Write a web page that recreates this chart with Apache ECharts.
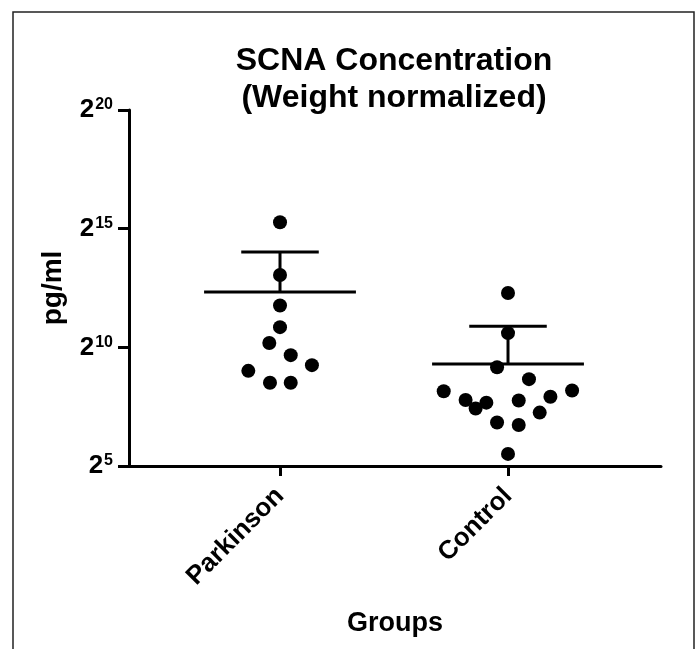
<!DOCTYPE html>
<html>
<head>
<meta charset="utf-8">
<script src="https://cdn.jsdelivr.net/npm/echarts@6/dist/echarts.min.js"></script>
<style>html,body{margin:0;padding:0;background:#fff}#c{width:696px;height:649px}</style>
</head>
<body>
<div id="c"></div>
<script>
// ---- data (values as log2 of pg/ml) ----
const categories = ['Parkinson', 'Control'];
const groupPos = [1, 2];
const yTicks = [5, 10, 15, 20];
const parkinsonLog2 = [15.27, 13.05, 11.76, 10.85, 10.18, 9.67, 9.25, 9.01, 8.51, 8.51];
const parkinsonJitter = [0, 0, 0, 0, -0.047, 0.047, 0.14, -0.139, -0.044, 0.047];
const controlLog2 = [12.29, 10.60, 9.16, 8.66, 8.15, 8.18, 7.78, 7.67, 7.42, 7.76, 7.92, 7.25, 6.83, 6.73, 5.51];
const controlJitter = [0, 0, -0.048, 0.092, -0.282, 0.281, -0.186, -0.095, -0.142, 0.047, 0.186, 0.139, -0.048, 0.047, 0];
const meanLog2 = [12.33, 9.30];
const semUpperLog2 = [14.02, 10.89];

const FONT = '"Liberation Sans", Arial, Helvetica, sans-serif';
const chart = echarts.init(document.getElementById('c'), null, {renderer: 'canvas'});

const pkData = parkinsonLog2.map((v, i) => [groupPos[0] + parkinsonJitter[i], v]);
const ctData = controlLog2.map((v, i) => [groupPos[1] + controlJitter[i], v]);
const statData = groupPos.map((p, i) => [p, meanLog2[i], semUpperLog2[i]]);

const MEAN_HALF = 0.333, CAP_HALF = 0.17;

chart.setOption({
  backgroundColor: '#fff',
  animation: false,
  graphic: [
    {type: 'rect', shape: {x: 13, y: 12, width: 681, height: 660}, style: {fill: 'none', stroke: '#222', lineWidth: 1.5}, silent: true},
    {type: 'text', x: 394, y: 43, style: {text: 'SCNA Concentration\n(Weight normalized)', font: 'bold 32px ' + FONT, fill: '#000', align: 'center', verticalAlign: 'top', lineHeight: 37}, silent: true}
  ],
  grid: {left: 129, right: 35, top: 110, bottom: 183, containLabel: false, outerBoundsMode: 'none'},
  xAxis: {
    type: 'value', min: 0.3377, max: 2.671,
    name: 'Groups', nameLocation: 'middle', nameGap: 144,
    nameTextStyle: {fontFamily: FONT, fontWeight: 'bold', fontSize: 27, color: '#000'},
    axisLine: {show: true, lineStyle: {color: '#000', width: 3}},
    axisTick: {show: true, length: 10, customValues: groupPos, lineStyle: {color: '#000', width: 3}},
    axisLabel: {
      show: true, customValues: groupPos, rotate: 45, margin: 26,
      formatter: v => categories[groupPos.indexOf(Math.round(v))] || '',
      fontFamily: FONT, fontWeight: 'bold', fontSize: 26, color: '#000'
    },
    splitLine: {show: false}
  },
  yAxis: {
    type: 'value', min: 5, max: 20, interval: 5,
    name: 'pg/ml', nameLocation: 'middle', nameGap: 62,
    nameTextStyle: {fontFamily: FONT, fontWeight: 'bold', fontSize: 28, color: '#000'},
    axisLine: {show: true, lineStyle: {color: '#000', width: 3}},
    axisTick: {show: true, length: 11, lineStyle: {color: '#000', width: 3}},
    axisLabel: {
      margin: 16,
      formatter: v => yTicks.indexOf(v) >= 0 ? '{b|2}{s|' + v + '}' : '',
      rich: {
        b: {fontFamily: FONT, fontWeight: 'bold', fontSize: 26, lineHeight: 26, color: '#000'},
        s: {fontFamily: FONT, fontWeight: 'bold', fontSize: 16, lineHeight: 17, color: '#000', verticalAlign: 'top', padding: [0, 0, 0, 1]}
      }
    },
    splitLine: {show: false}
  },
  series: [
    {type: 'scatter', name: categories[0], data: pkData, symbol: 'circle', symbolSize: 14, itemStyle: {color: '#000', opacity: 1}, z: 3},
    {type: 'scatter', name: categories[1], data: ctData, symbol: 'circle', symbolSize: 14, itemStyle: {color: '#000', opacity: 1}, z: 3},
    {
      type: 'custom', data: statData, z: 4,
      renderItem: (params, api) => {
        const x = api.value(0), m = api.value(1), u = api.value(2);
        const a = api.coord([x - MEAN_HALF, m]), b = api.coord([x + MEAN_HALF, m]);
        const c = api.coord([x, m]), d = api.coord([x, u]);
        const e = api.coord([x - CAP_HALF, u]), f = api.coord([x + CAP_HALF, u]);
        const st = {stroke: '#000', lineWidth: 3, fill: 'none'};
        return {type: 'group', children: [
          {type: 'line', shape: {x1: a[0], y1: a[1], x2: b[0], y2: b[1]}, style: st},
          {type: 'line', shape: {x1: c[0], y1: c[1], x2: d[0], y2: d[1]}, style: st},
          {type: 'line', shape: {x1: e[0], y1: e[1], x2: f[0], y2: f[1]}, style: st}
        ]};
      }
    }
  ]
});
</script>
</body>
</html>
